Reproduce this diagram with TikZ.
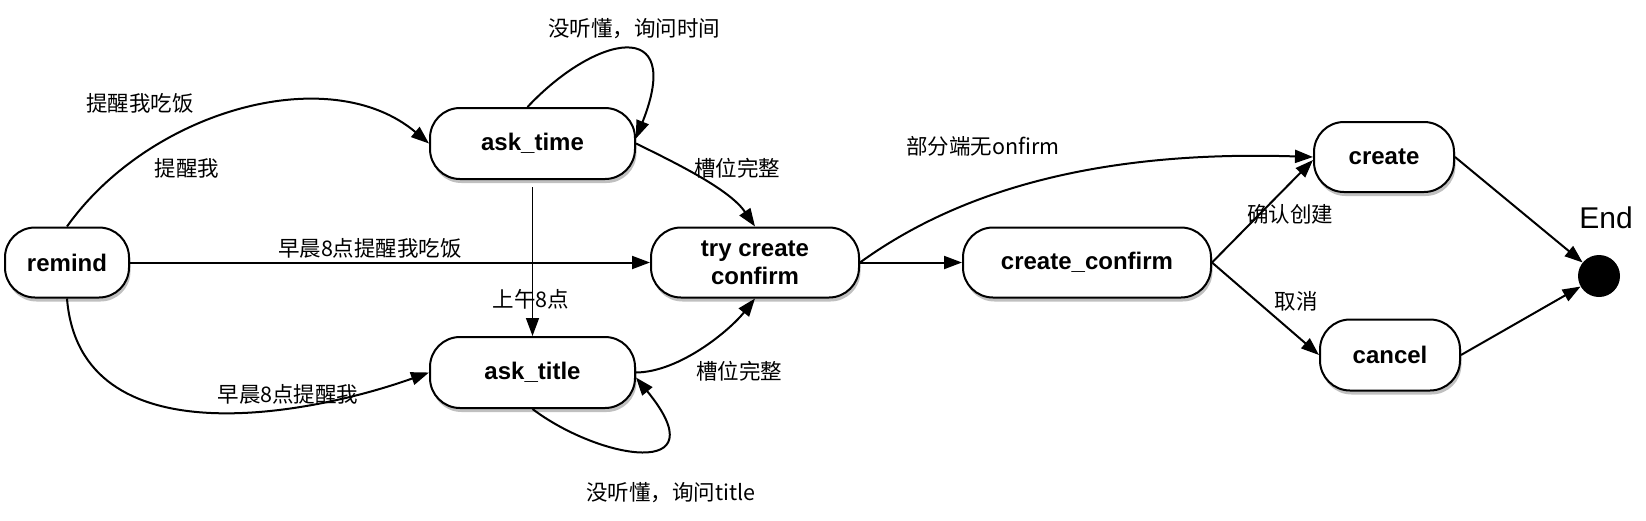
\documentclass[tikz,border=0pt]{standalone}
\usepackage{fontspec}
\setmainfont{Liberation Sans}
\newfontfamily\cjk{Noto Sans CJK SC}
\usetikzlibrary{arrows.meta,shadows}
\begin{document}
\begin{tikzpicture}[x=1pt,y=-1pt,
  state/.style={draw,line width=2pt,rounded corners=30pt,fill=white,inner sep=0pt,
     font=\fontsize{24pt}{28pt}\selectfont\bfseries, align=center,
     drop shadow={shadow xshift=1.5pt,shadow yshift=-4pt,opacity=0.35,fill=black!70}},
  lbl/.style={inner sep=0pt,font=\cjk\fontsize{21.5pt}{26pt}\selectfont},
  edge/.style={line width=2pt,-{Triangle[length=18pt,width=13pt]}},
  ]
\useasboundingbox (0,0) rectangle (1646,520);
\fill[white] (0,0) rectangle (1646,520);
% states
\node[state,minimum width=124pt,minimum height=70pt] (remind) at (67,262.5) {remind};
\node[state,minimum width=205pt,minimum height=71pt] (ask_time) at (532.5,143.5) {ask\_time};
\node[state,minimum width=205pt,minimum height=71pt] (ask_title) at (532.5,372.5) {ask\_title};
\node[state,minimum width=208pt,minimum height=70pt] (trycc) at (755,262.5) {try create\\confirm};
\node[state,minimum width=248pt,minimum height=70pt] (cconfirm) at (1087,262.5) {create\_confirm};
\node[state,minimum width=140pt,minimum height=70pt] (create) at (1384,157) {create};
\node[state,minimum width=140pt,minimum height=71pt] (cancel) at (1390,355) {cancel};
\node[circle,fill=black,minimum size=42pt,inner sep=0pt] (endc) at (1599,276) {};
\node[inner sep=0pt,font=\fontsize{30pt}{34pt}\selectfont] (endlbl) at (1606,218) {End};
% connectors
\draw[edge] (remind.north) .. controls (150,110) and (330,60) .. (ask_time.west);
\draw[edge] ([xshift=-5pt]ask_time.north) .. controls (595,35) and (685,15) .. ([yshift=5pt]ask_time.east);
\draw[edge] (ask_time.east) .. controls (680,165) and (730,190) .. (trycc.north);
\draw[edge,line width=1.5pt] ([yshift=-7pt]ask_time.south) -- (ask_title.north);
\draw[edge] (remind.east) -- (trycc.west);
\draw[edge] (remind.south) .. controls (80,460) and (310,415) .. (ask_title.west);
\draw[edge] (ask_title.east) .. controls (680,372) and (730,330) .. (trycc.south);
\draw[edge] (ask_title.south) .. controls (600,460) and (720,480) .. ([yshift=-5pt]ask_title.east);
\draw[edge] (trycc.east) -- (cconfirm.west);
\draw[edge] (trycc.east) .. controls (960,190) and (1100,150) .. (create.west);
\draw[edge] (cconfirm.east) -- ([yshift=-3pt]create.west);
\draw[edge] (cconfirm.east) -- (cancel.west);
\draw[edge] (create.east) -- (endc);
\draw[edge] (cancel.east) -- (endc);
% labels
\node[lbl] (l1) at (140,103) {提醒我吃饭};
\node[lbl] (l2) at (187,168) {提醒我};
\node[lbl] (l3) at (634,29) {没听懂，询问时间};
\node[lbl] (l4) at (737,168) {槽位完整};
\node[lbl] (l5) at (370,248) {早晨8点提醒我吃饭};
\node[lbl] (l6) at (531,299) {上午8点};
\node[lbl] (l7) at (288,394) {早晨8点提醒我};
\node[lbl] (l8) at (739,371) {槽位完整};
\node[lbl] (l9) at (671,493) {没听懂，询问title};
\node[lbl] (l10) at (983,146) {部分端无onfirm};
\node[lbl] (l11) at (1290,214) {确认创建};
\node[lbl] (l12) at (1296,301) {取消};
\end{tikzpicture}
\end{document}
